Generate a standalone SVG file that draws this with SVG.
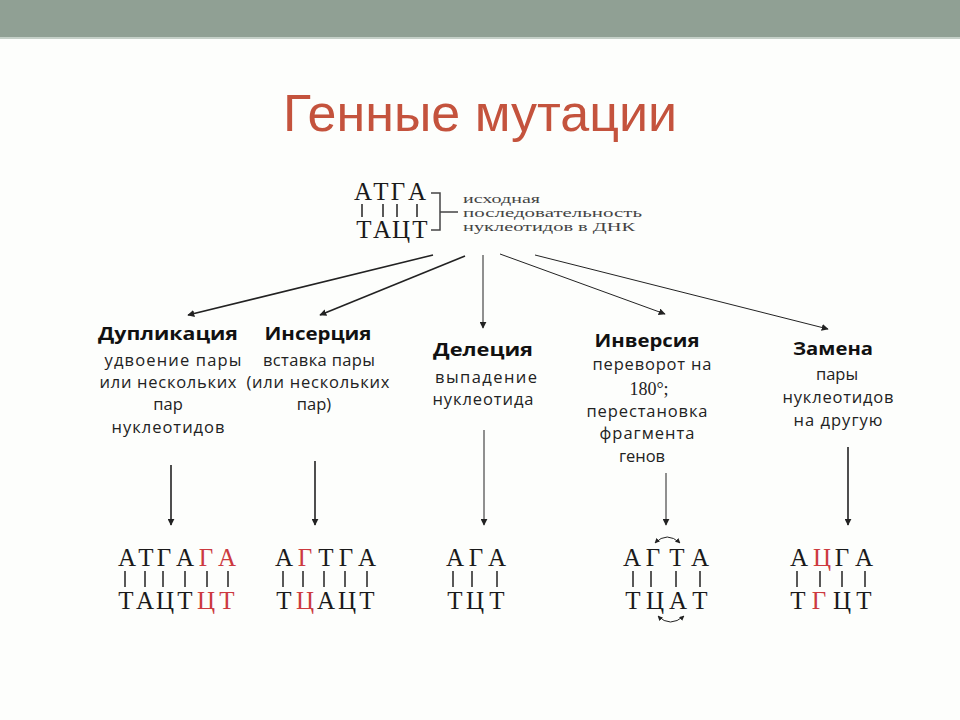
<svg xmlns="http://www.w3.org/2000/svg" width="960" height="720" viewBox="0 0 960 720">
<style>
.title{font-family:"Liberation Sans",Arial,sans-serif;font-size:52px;fill:#c4533d}
.hd{font-family:"Open Sans","DejaVu Sans",sans-serif;font-weight:700;font-size:18px;fill:#111}
.ds{font-family:"Open Sans","DejaVu Sans",sans-serif;font-size:16.5px;fill:#222}
.sr{font-family:"Liberation Serif","DejaVu Serif",serif;font-size:18px;fill:#222}
.nt{font-family:"Liberation Serif","DejaVu Serif",serif;font-size:13px;fill:#444}
.dna{font-family:"Liberation Serif","DejaVu Serif",serif;font-size:25px;fill:#1a1a1a;text-anchor:middle}
.red{fill:#cc3a3f}
.bar{stroke:#222;stroke-width:1.5}
.ar{stroke:#222;stroke-width:1.6;fill:none}
.arT{stroke:#222;stroke-width:1;fill:none}
</style>
<defs>
<marker id="ah" viewBox="0 0 10 10" refX="9" refY="5" markerWidth="7" markerHeight="7" markerUnits="userSpaceOnUse" orient="auto">
<path d="M0,0 L10,5 L0,10 z" fill="#222"/>
</marker>
<marker id="sh" viewBox="0 0 10 10" refX="9" refY="5" markerWidth="5" markerHeight="5" markerUnits="userSpaceOnUse" orient="auto-start-reverse">
<path d="M0,0 L10,5 L0,10 z" fill="#222"/>
</marker>
</defs>
<rect x="0" y="0" width="960" height="720" fill="#fdfefc"/>
<rect x="0" y="0" width="960" height="37" fill="#90a094"/>
<rect x="0" y="37" width="960" height="2" fill="#c5d0c8"/>
<text class="title" x="480" y="131" text-anchor="middle">Генные мутации</text>

<g id="source">
<text class="dna" x="363" y="200">А</text><text class="dna" x="381" y="200">Т</text><text class="dna" x="398" y="200">Г</text><text class="dna" x="417" y="200">А</text>
<line class="bar" x1="362" y1="204" x2="362" y2="217"/><line class="bar" x1="383" y1="204" x2="383" y2="217"/><line class="bar" x1="397" y1="204" x2="397" y2="217"/><line class="bar" x1="417" y1="204" x2="417" y2="217"/>
<text class="dna" x="364" y="238">Т</text><text class="dna" x="382" y="238">А</text><text class="dna" x="401" y="238">Ц</text><text class="dna" x="420" y="238">Т</text>
<path d="M431 193 H440 V230 H431 M440 212 H458" stroke="#444" stroke-width="1.5" fill="none"/>
<text class="nt" x="463" y="203" textLength="77" lengthAdjust="spacingAndGlyphs">исходная</text>
<text class="nt" x="463" y="217" textLength="179" lengthAdjust="spacingAndGlyphs">последовательность</text>
<text class="nt" x="463" y="231" textLength="172" lengthAdjust="spacingAndGlyphs">нуклеотидов в ДНК</text>
</g>

<g id="connectors">
<line class="ar" x1="433" y1="255" x2="188" y2="315" marker-end="url(#ah)"/>
<line class="ar" x1="465" y1="256" x2="320" y2="315" marker-end="url(#ah)"/>
<line class="arT" x1="483" y1="255" x2="483" y2="328" marker-end="url(#ah)"/>
<line class="arT" x1="500" y1="254" x2="665" y2="314" marker-end="url(#ah)"/>
<line class="arT" x1="535" y1="255" x2="828" y2="329" marker-end="url(#ah)"/>
<line class="ar" x1="171" y1="465" x2="171" y2="525" marker-end="url(#ah)"/>
<line class="ar" x1="315" y1="461" x2="315" y2="525" marker-end="url(#ah)"/>
<line class="arT" x1="484" y1="430" x2="484" y2="525" marker-end="url(#ah)"/>
<line class="arT" x1="666" y1="473" x2="666" y2="525" marker-end="url(#ah)"/>
<line class="ar" x1="848" y1="447" x2="848" y2="525" marker-end="url(#ah)"/>
</g>

<g id="duplication">
<text class="hd" x="168" y="340" text-anchor="middle" textLength="140" lengthAdjust="spacingAndGlyphs">Дупликация</text>
<text class="ds" x="173" y="366" text-anchor="middle" textLength="137" lengthAdjust="spacing">удвоение пары</text>
<text class="ds" x="168" y="388" text-anchor="middle" textLength="137" lengthAdjust="spacing">или нескольких</text>
<text class="ds" x="168" y="410" text-anchor="middle">пар</text>
<text class="ds" x="168" y="433" text-anchor="middle" textLength="113" lengthAdjust="spacing">нуклеотидов</text>
<text class="dna" x="127" y="566">А</text><text class="dna" x="146" y="566">Т</text><text class="dna" x="164" y="566">Г</text><text class="dna" x="185" y="566">А</text><text class="dna red" x="206" y="566">Г</text><text class="dna red" x="227" y="566">А</text>
<line class="bar" x1="125" y1="571" x2="125" y2="587"/><line class="bar" x1="145" y1="571" x2="145" y2="587"/><line class="bar" x1="163" y1="571" x2="163" y2="587"/><line class="bar" x1="185" y1="571" x2="185" y2="587"/><line class="bar" x1="207" y1="571" x2="207" y2="587"/><line class="bar" x1="228" y1="571" x2="228" y2="587"/>
<text class="dna" x="126" y="609">Т</text><text class="dna" x="145" y="609">А</text><text class="dna" x="165" y="609">Ц</text><text class="dna" x="185" y="609">Т</text><text class="dna red" x="206" y="609">Ц</text><text class="dna red" x="227" y="609">Т</text>
</g>

<g id="insertion">
<text class="hd" x="318" y="340" text-anchor="middle" textLength="107" lengthAdjust="spacingAndGlyphs">Инсерция</text>
<text class="ds" x="319" y="366" text-anchor="middle" textLength="112" lengthAdjust="spacing">вставка пары</text>
<text class="ds" x="318" y="388" text-anchor="middle" textLength="143" lengthAdjust="spacing">(или нескольких</text>
<text class="ds" x="314" y="410" text-anchor="middle">пар)</text>
<text class="dna" x="284" y="566">А</text><text class="dna red" x="305" y="566">Г</text><text class="dna" x="326" y="566">Т</text><text class="dna" x="346" y="566">Г</text><text class="dna" x="367" y="566">А</text>
<line class="bar" x1="283" y1="571" x2="283" y2="587"/><line class="bar" x1="303" y1="571" x2="303" y2="587"/><line class="bar" x1="324" y1="571" x2="324" y2="587"/><line class="bar" x1="345" y1="571" x2="345" y2="587"/><line class="bar" x1="367" y1="571" x2="367" y2="587"/>
<text class="dna" x="284" y="609">Т</text><text class="dna red" x="305" y="609">Ц</text><text class="dna" x="326" y="609">А</text><text class="dna" x="347" y="609">Ц</text><text class="dna" x="367" y="609">Т</text>
</g>

<g id="deletion">
<text class="hd" x="483" y="356" text-anchor="middle" textLength="100" lengthAdjust="spacingAndGlyphs">Делеция</text>
<text class="ds" x="486" y="383" text-anchor="middle" textLength="102" lengthAdjust="spacing">выпадение</text>
<text class="ds" x="483" y="405" text-anchor="middle" textLength="101" lengthAdjust="spacing">нуклеотида</text>
<text class="dna" x="455" y="566">А</text><text class="dna" x="476" y="566">Г</text><text class="dna" x="497" y="566">А</text>
<line class="bar" x1="453" y1="571" x2="453" y2="587"/><line class="bar" x1="472" y1="571" x2="472" y2="587"/><line class="bar" x1="497" y1="571" x2="497" y2="587"/>
<text class="dna" x="455" y="609">Т</text><text class="dna" x="475" y="609">Ц</text><text class="dna" x="497" y="609">Т</text>
</g>

<g id="inversion">
<text class="hd" x="647" y="347" text-anchor="middle" textLength="105" lengthAdjust="spacingAndGlyphs">Инверсия</text>
<text class="ds" x="652" y="370" text-anchor="middle" textLength="119" lengthAdjust="spacing">переворот на</text>
<text class="sr" x="649" y="395" text-anchor="middle">180°;</text>
<text class="ds" x="647" y="417" text-anchor="middle" textLength="121" lengthAdjust="spacing">перестановка</text>
<text class="ds" x="647" y="439" text-anchor="middle" textLength="95" lengthAdjust="spacing">фрагмента</text>
<text class="ds" x="642" y="462" text-anchor="middle">генов</text>
<path class="arT" d="M655 543 Q667 531 680 543" marker-start="url(#sh)" marker-end="url(#sh)"/>
<text class="dna" x="632" y="566">А</text><text class="dna" x="653" y="566">Г</text><text class="dna" x="677" y="566">Т</text><text class="dna" x="700" y="566">А</text>
<line class="bar" x1="633" y1="571" x2="633" y2="587"/><line class="bar" x1="651" y1="571" x2="651" y2="587"/><line class="bar" x1="676" y1="571" x2="676" y2="587"/><line class="bar" x1="700" y1="571" x2="700" y2="587"/>
<text class="dna" x="633" y="609">Т</text><text class="dna" x="655" y="609">Ц</text><text class="dna" x="678" y="609">А</text><text class="dna" x="700" y="609">Т</text>
<path class="arT" d="M658 616 Q670 628 684 616" marker-start="url(#sh)" marker-end="url(#sh)"/>
</g>

<g id="substitution">
<text class="hd" x="833" y="355" text-anchor="middle" textLength="80" lengthAdjust="spacingAndGlyphs">Замена</text>
<text class="ds" x="837" y="380" text-anchor="middle">пары</text>
<text class="ds" x="838" y="403" text-anchor="middle" textLength="111" lengthAdjust="spacing">нуклеотидов</text>
<text class="ds" x="838" y="426" text-anchor="middle" textLength="89" lengthAdjust="spacing">на другую</text>
<text class="dna" x="799" y="566">А</text><text class="dna red" x="822" y="566">Ц</text><text class="dna" x="842" y="566">Г</text><text class="dna" x="864" y="566">А</text>
<line class="bar" x1="797" y1="571" x2="797" y2="587"/><line class="bar" x1="820" y1="571" x2="820" y2="587"/><line class="bar" x1="842" y1="571" x2="842" y2="587"/><line class="bar" x1="865" y1="571" x2="865" y2="587"/>
<text class="dna" x="798" y="609">Т</text><text class="dna red" x="819" y="609">Г</text><text class="dna" x="842" y="609">Ц</text><text class="dna" x="864" y="609">Т</text>
</g>
</svg>
